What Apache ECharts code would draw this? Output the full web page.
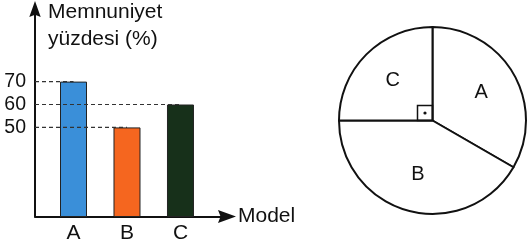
<!DOCTYPE html>
<html>
<head>
<meta charset="utf-8">
<script src="https://cdn.jsdelivr.net/npm/echarts@6/dist/echarts.min.js"></script>
<style>
html,body{margin:0;padding:0;background:#fff;}
#c{width:527px;height:250px;}
</style>
</head>
<body>
<div id="c"></div>
<script>
// ---- data ----
var categories = ['A', 'B', 'C'];
var satisfaction = [70, 50, 60];          // Memnuniyet yüzdesi (%)
var yTickLabels = [50, 60, 70];
var pieCategories = ['A', 'B', 'C'];
var pieShares = [4, 5, 3];                // A 120°, B 150°, C 90°
var barColors = ['#3a8fd9', '#f5661f', '#17301a'];

// ---- layout / style ----
var FONT = 'Liberation Sans, Arial, sans-serif';
var TXT = '#111';
var X_MIN = 0.28, X_MAX = 3.87;
var Y_MIN = 11.1, Y_MAX = 101.7;
var PIE_C = [432.5, 120.5], PIE_R = 93.5;
var ARROW = 'path://M5,0 L10,14 L5,12 L0,14 Z';

var positions = categories.map(function (c, i) { return i + 1; });

var guideSeries = satisfaction.map(function (v, i) {
  return {
    type: 'line', silent: true, symbol: 'none', animation: false,
    xAxisIndex: 0, yAxisIndex: 0,
    lineStyle: { color: '#333', width: 1.2, type: [4, 3] },
    data: [[X_MIN, v], [positions[i], v]]
  };
});

var chart = echarts.init(document.getElementById('c'), null, { renderer: 'canvas' });
chart.setOption({
  animation: false,
  backgroundColor: '#fff',
  grid: { left: 35, right: 527 - 227, top: 9, bottom: 250 - 216.5, outerBoundsMode: 'none', containLabel: false },
  xAxis: {
    type: 'value', min: X_MIN, max: X_MAX,
    name: 'Model', nameLocation: 'end', nameGap: 11, nameMoveOverlap: false,
    nameTextStyle: { fontFamily: FONT, fontSize: 21, color: TXT, verticalAlign: 'middle' },
    axisLine: { show: true, onZero: false, symbol: ['none', ARROW], symbolSize: [13, 18],
      lineStyle: { color: '#111', width: 2 } },
    axisTick: { show: false },
    splitLine: { show: false },
    axisLabel: {
      customValues: positions, margin: 6,
      fontFamily: FONT, fontSize: 21, color: TXT,
      formatter: function (v) { return categories[Math.round(v) - 1] || ''; }
    }
  },
  yAxis: {
    type: 'value', min: Y_MIN, max: Y_MAX,
    name: 'Memnuniyet\nyüzdesi (%)', nameLocation: 'end', nameGap: 10, nameMoveOverlap: false,
    nameTextStyle: { fontFamily: FONT, fontSize: 21, color: TXT, align: 'left', verticalAlign: 'top',
      lineHeight: 27, padding: [0, 0, 0, 13] },
    axisLine: { show: true, onZero: false, symbol: ['none', ARROW], symbolSize: [12, 16],
      lineStyle: { color: '#111', width: 2 } },
    axisTick: { show: false },
    splitLine: { show: false },
    axisLabel: { customValues: yTickLabels, margin: 9, fontFamily: FONT, fontSize: 19.5, color: TXT }
  },
  series: guideSeries.concat([
    {
      type: 'bar', barWidth: 27, clip: true,
      data: satisfaction.map(function (v, i) {
        return { value: [positions[i], v], itemStyle: { color: barColors[i] } };
      }),
      itemStyle: { borderColor: '#222', borderWidth: 1 }
    },
    {
      type: 'pie', center: PIE_C, radius: PIE_R, startAngle: 90, clockwise: true,
      silent: true,
      data: pieCategories.map(function (c, i) { return { name: c, value: pieShares[i] }; }),
      itemStyle: { color: '#fff', borderColor: '#111', borderWidth: 2 },
      label: { show: true, position: 'inside', formatter: '{b}', fontFamily: FONT, fontSize: 20, color: TXT },
      labelLine: { show: false },
      labelLayout: function (p) {
        var r = p.labelRect;
        var cx = r.x + r.width / 2, cy = r.y + r.height / 2;
        var k = 1.13;
        return { x: PIE_C[0] + (cx - PIE_C[0]) * k, y: PIE_C[1] + (cy - PIE_C[1]) * k, align: 'center', verticalAlign: 'middle' };
      },
      emphasis: { disabled: true }
    }
  ]),
  graphic: [
    { type: 'rect', silent: true, z: 100,
      shape: { x: PIE_C[0] - 15, y: PIE_C[1] - 15, width: 15, height: 15 },
      style: { fill: 'none', stroke: '#111', lineWidth: 1.5 } },
    { type: 'circle', silent: true, z: 100,
      shape: { cx: PIE_C[0] - 7.5, cy: PIE_C[1] - 7.5, r: 1.6 },
      style: { fill: '#111' } }
  ]
});
</script>
</body>
</html>
